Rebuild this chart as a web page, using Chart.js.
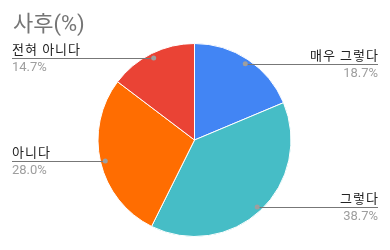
<!DOCTYPE html>
<html>
<head>
<meta charset="utf-8">
<script src="https://cdn.jsdelivr.net/npm/chart.js@4/dist/chart.umd.min.js"></script>
<style>
  html, body { margin: 0; padding: 0; background: #fff; }
  #wrap { width: 390px; height: 250px; position: relative; }
</style>
</head>
<body>
<div id="wrap"><canvas id="chartCanvas" width="390" height="250"></canvas></div>
<script>
const chartTitle = "사후(%)";
const categories = ["매우 그렇다", "그렇다", "아니다", "전혀 아니다"];
const values = [18.7, 38.7, 28.0, 14.7];
const colors = ["#4285F4", "#46BDC6", "#FF6D01", "#EA4335"];

const FONT = "Roboto, 'Noto Sans CJK KR', sans-serif";

const calloutPlugin = {
  id: "callouts",
  afterDraw(chart) {
    const ctx = chart.ctx;
    ctx.save();

    // title
    ctx.fillStyle = "#757575";
    ctx.font = "22px " + FONT;
    ctx.textAlign = "left";
    ctx.textBaseline = "alphabetic";
    ctx.fillText(chartTitle, 13, 31);

    const arcs = chart.getDatasetMeta(0).data;
    arcs.forEach((arc, i) => {
      const { x, y, startAngle, endAngle, outerRadius } = arc.getProps(["x", "y", "startAngle", "endAngle", "outerRadius"], true);
      const mid = (startAngle + endAngle) / 2;
      const px = x + Math.cos(mid) * outerRadius * 0.95;
      const py = y + Math.sin(mid) * outerRadius * 0.95;
      const right = Math.cos(mid) >= 0;
      const endX = right ? 378 : 12;

      ctx.strokeStyle = "#777";
      ctx.lineWidth = 1;
      ctx.beginPath();
      ctx.moveTo(px, Math.round(py) + 0.5);
      ctx.lineTo(endX, Math.round(py) + 0.5);
      ctx.stroke();

      ctx.fillStyle = "#9e9e9e";
      ctx.beginPath();
      ctx.arc(px, py, 2.5, 0, Math.PI * 2);
      ctx.fill();

      ctx.textAlign = right ? "right" : "left";
      ctx.font = "13px " + FONT;
      ctx.letterSpacing = "1px";
      ctx.fillStyle = "#222";
      ctx.fillText(categories[i], right ? endX + 1 : endX, Math.round(py) - 4);
      ctx.letterSpacing = "0px";
      ctx.fillStyle = "#9e9e9e";
      ctx.fillText(values[i].toFixed(1) + "%", endX, Math.round(py) + 13);
    });

    ctx.restore();
  }
};

new Chart(document.getElementById("chartCanvas"), {
  type: "pie",
  data: {
    labels: categories,
    datasets: [{
      data: values,
      backgroundColor: colors,
      borderColor: "#fff",
      borderWidth: 1
    }]
  },
  options: {
    responsive: false,
    animation: false,
    layout: { padding: { top: 43, bottom: 13, left: 0, right: 1 } },
    plugins: {
      legend: { display: false },
      tooltip: { enabled: false }
    }
  },
  plugins: [calloutPlugin]
});
</script>
</body>
</html>
